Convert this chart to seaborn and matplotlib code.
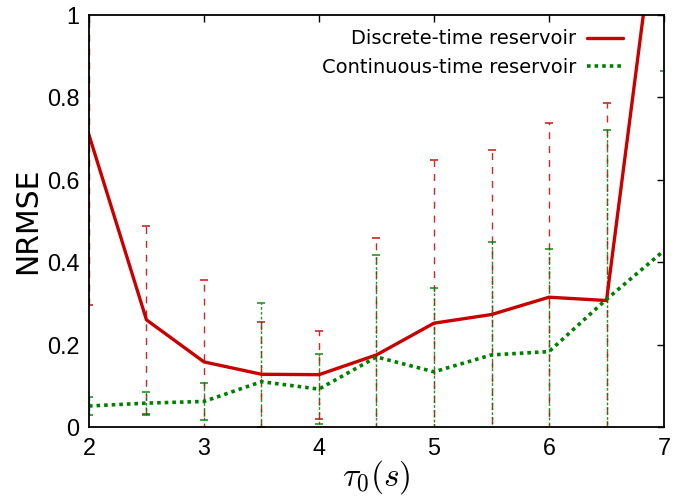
import matplotlib
matplotlib.use("Agg")
import matplotlib.pyplot as plt
from matplotlib.lines import Line2D
import numpy as np
import pandas as pd
import seaborn as sns

# tau_0 values (s)
tau = [2.0, 2.5, 3.0, 3.5, 4.0, 4.5, 5.0, 5.5, 6.0, 6.5, 7.0]

# mean NRMSE and symmetric error per reservoir type
discrete_mean = [0.709, 0.260, 0.158, 0.128, 0.127, 0.175, 0.252, 0.273, 0.315, 0.307, 1.39]
discrete_err = [0.414, 0.229, 0.200, 0.127, 0.107, 0.283, 0.395, 0.400, 0.424, 0.480, 0.30]
continuous_mean = [0.051, 0.058, 0.062, 0.110, 0.092, 0.170, 0.134, 0.175, 0.183, 0.310, 0.428]
continuous_err = [0.022, 0.028, 0.046, 0.190, 0.085, 0.247, 0.204, 0.275, 0.249, 0.410, 0.437]

labels = ["Discrete-time reservoir", "Continuous-time reservoir"]
red = "#c80000"
green = "#008000"

df = pd.DataFrame({
    "tau": tau * 2,
    "nrmse": discrete_mean + continuous_mean,
    "err": discrete_err + continuous_err,
    "kind": [labels[0]] * len(tau) + [labels[1]] * len(tau),
})

sns.set_style("white")
plt.rcParams["font.family"] = ["Liberation Sans", "DejaVu Sans"]
plt.rcParams["mathtext.fontset"] = "cm"
plt.rcParams["text.color"] = "black"
plt.rcParams["axes.labelcolor"] = "black"

fig = plt.figure(figsize=(6.94, 4.96), dpi=100)
ax = fig.add_axes([0.1282, 0.1391, 0.8286, 0.8307])

# error bars first so the lines sit on top
for name, col, ls in [(labels[0], red, (0, (5, 5))), (labels[1], green, (0, (2, 1.5)))]:
    sub = df[df.kind == name]
    eb = ax.errorbar(sub["tau"], sub["nrmse"], yerr=sub["err"], fmt="none",
                     ecolor=col, elinewidth=1.0, capsize=3, capthick=1.2, alpha=0.85)
    eb[2][0].set_linestyle(ls)

sns.lineplot(data=df, x="tau", y="nrmse", hue="kind", style="kind",
             palette=[red, green], dashes=[(None, None), (1, 1.1)],
             linewidth=2.4, errorbar=None, ax=ax, legend=False)
lines = ax.get_lines()
lines[-2].set_linestyle("-")
lines[-1].set_linestyle((0, (1, 1.1)))
lines[-1].set_linewidth(2.6)

ax.set_xlim(2, 7)
ax.set_ylim(0, 1)
ax.set_xticks([2, 3, 4, 5, 6, 7])
ax.set_yticks([0, 0.2, 0.4, 0.6, 0.8, 1.0])
ax.set_yticklabels(["0", "0.2", "0.4", "0.6", "0.8", "1"])
ax.tick_params(direction="in", length=5, width=1, top=True, right=True,
               labelsize=16.8, pad=7, colors="black")
for s in ax.spines.values():
    s.set_linewidth(1.3)
    s.set_color("black")

ax.set_xlabel(r"$\tau_0(s)$", fontsize=24)
ax.xaxis.set_label_coords(0.5, -0.122)
ax.xaxis.label.set_va("center")
ax.set_ylabel("NRMSE", fontsize=21.5, family="DejaVu Sans")
ax.yaxis.set_label_coords((27.5 - 89) / 575, 0.5)
ax.yaxis.label.set_va("center")

handles = [Line2D([], [], color=red, lw=2.4, ls="-"),
           Line2D([], [], color=green, lw=2.6, ls=(0, (1, 1.1)))]
leg = ax.legend(handles, labels, loc="upper right", bbox_to_anchor=(0.929, 0.965),
                frameon=False, markerfirst=False, handlelength=1.86,
                labelspacing=0.5, handletextpad=0.57, borderaxespad=0, borderpad=0,
                prop={"family": "DejaVu Sans", "size": 14}, labelcolor="black")

fig.savefig("out.png", dpi=100)
